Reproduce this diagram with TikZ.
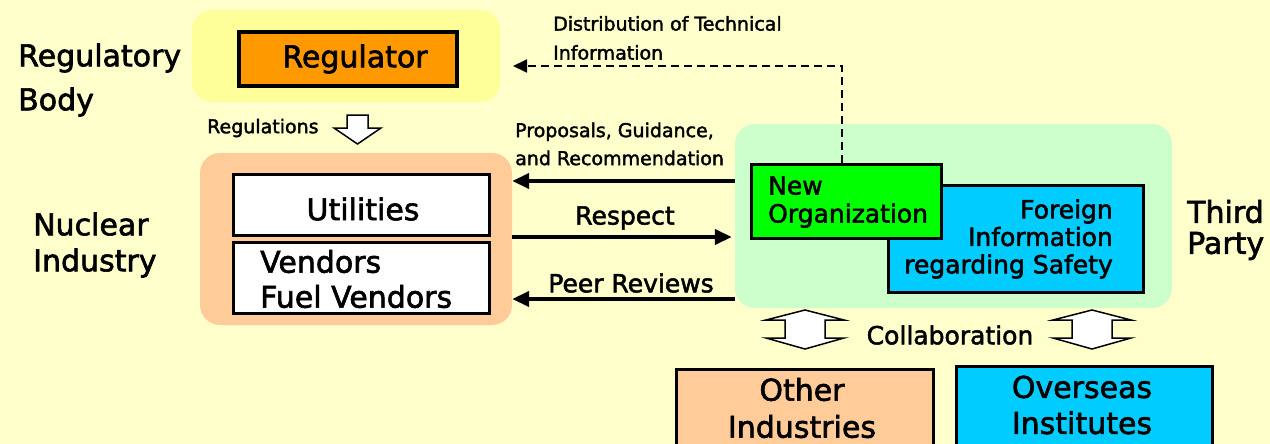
\documentclass[tikz,border=0pt]{standalone}
\usepackage{fontspec}
\setmainfont{DejaVu Sans}[FakeBold=2]
\usetikzlibrary{arrows.meta,calc}
\definecolor{bgc}{HTML}{FFFFCC}
\definecolor{regpan}{HTML}{FFFF99}
\definecolor{regbox}{HTML}{FF9900}
\definecolor{nucpan}{HTML}{FFCC99}
\definecolor{grnpan}{HTML}{CCFFCC}
\definecolor{neworg}{HTML}{00FF00}
\definecolor{bluebox}{HTML}{00CCFF}
\begin{document}
\begin{tikzpicture}[x=1pt,y=-1pt,
  panel/.style={rounded corners=20pt, inner sep=0pt},
  box/.style={draw=black, line width=3pt, inner sep=0pt},
  lbl/.style={inner sep=0pt, text=black},
  bigfont/.style={font=\fontsize{30}{#1}\selectfont},
  midfont/.style={font=\fontsize{25}{#1}\selectfont},
  smallfont/.style={font=\fontsize{19}{#1}\selectfont},
  bigarrow/.style={line width=4pt, -{Triangle[length=17pt,width=15pt]}},
  dasharrow/.style={line width=1.8pt, dash pattern=on 8pt off 5pt, -{Triangle[length=14pt,width=13pt]}},
  hollow/.style={draw=black, fill=white, line width=1.5pt, line join=miter}
]
\useasboundingbox (0,0) rectangle (1270,444);
\clip (0,0) rectangle (1270,444);
\fill[bgc] (0,0) rectangle (1270,444);

% panels
\node[panel, fill=regpan, minimum width=308pt, minimum height=92pt] (regpanel) at (346,56) {};
\node[panel, fill=nucpan, minimum width=312pt, minimum height=172pt] (nucpanel) at (356,239) {};
\node[panel, fill=grnpan, minimum width=437pt, minimum height=184pt] (grnpanel) at (953.5,216) {};

% regulator
\node[box, line width=4pt, fill=regbox, minimum width=218pt, minimum height=54pt] (regulator) at (348,59) {};
\node[lbl, bigfont=36] (regtext) at (355,59) {Regulator};

% nuclear industry boxes
\node[box, fill=white, minimum width=256pt, minimum height=61pt] (utilities) at (361.5,205) {};
\node[lbl, bigfont=36] (utiltext) at (363,209) {Utilities};
\node[box, fill=white, minimum width=256pt, minimum height=71pt] (vendors) at (361.5,278) {};
\node[lbl, bigfont=35, align=left, anchor=west] (vendtext) at (260,279) {Vendors\\Fuel Vendors};

% third party boxes
\node[box, fill=bluebox, minimum width=255pt, minimum height=107pt] (foreign) at (1016,239) {};
\node[box, fill=neworg, minimum width=190pt, minimum height=74pt] (neworgbox) at (846.5,201.5) {};
\node[lbl, midfont=28, align=left, anchor=west] (neworgtext) at (768,202) {New\\Organization};
\node[lbl, midfont=27.5, align=right, anchor=east] (foreigntext) at (1113,239) {Foreign\\Information\\regarding Safety};

% bottom boxes
\node[box, fill=nucpan, minimum width=257pt, minimum height=100pt, anchor=north] (other) at (805,367.5) {};
\node[lbl, bigfont=37, align=center] (othertext) at (802,408) {Other\\Industries};
\node[box, fill=bluebox, minimum width=256pt, minimum height=100pt, anchor=north] (overseas) at (1084.5,364.5) {};
\node[lbl, bigfont=36, align=center] (overseastext) at (1082,405) {Overseas\\Institutes};

% side labels
\node[lbl, bigfont=44, align=left, anchor=west] (regbody) at (18,80) {Regulatory\\Body};
\node[lbl, bigfont=36, align=left, anchor=west] (nucind) at (33,245) {Nuclear\\Industry};
\node[lbl, bigfont=31, align=left, anchor=west] (thirdparty) at (1187,230) {Third\\Party};

% arrow labels
\node[lbl, smallfont=29, align=left, anchor=west] (disttext) at (553,38) {Distribution of Technical\\Information};
\node[lbl, smallfont=28, align=left, anchor=west] (proptext) at (515,144) {Proposals, Guidance,\\and Recommendation};
\node[lbl, smallfont=20, anchor=west] (regstext) at (207,128) {Regulations};
\node[lbl, midfont=30] (resptext) at (625,218) {Respect};
\node[lbl, midfont=30] (peertext) at (631,283) {Peer Reviews};
\node[lbl, midfont=30] (collabtext) at (950,335) {Collaboration};

% arrows
\draw[bigarrow] (grnpanel.west |- 0,181) -- (nucpanel.east |- 0,181);
\draw[bigarrow] (nucpanel.east |- 0,237) -- ([xshift=-3pt]grnpanel.west |- 0,237);
\draw[bigarrow] (grnpanel.west |- 0,299) -- (nucpanel.east |- 0,299);

\coordinate (distx) at (842,0);
\coordinate (disttip) at (513,66);
\draw[dasharrow] (neworgbox.north -| distx) |- (disttip);

% hollow regulation arrow
\draw[hollow] (347,115) -- (368,115) -- (368,128) -- (381,128) -- (357.5,144) -- (334,128) -- (347,128) -- cycle;

% collaboration double arrows
\foreach \cx in {805,1092}{
  \draw[hollow] (\cx,310) -- (\cx+39,320) -- (\cx+20,320) -- (\cx+20,338) -- (\cx+39,338) -- (\cx,349)
    -- (\cx-39,338) -- (\cx-20,338) -- (\cx-20,320) -- (\cx-39,320) -- cycle;
}
\end{tikzpicture}
\end{document}
